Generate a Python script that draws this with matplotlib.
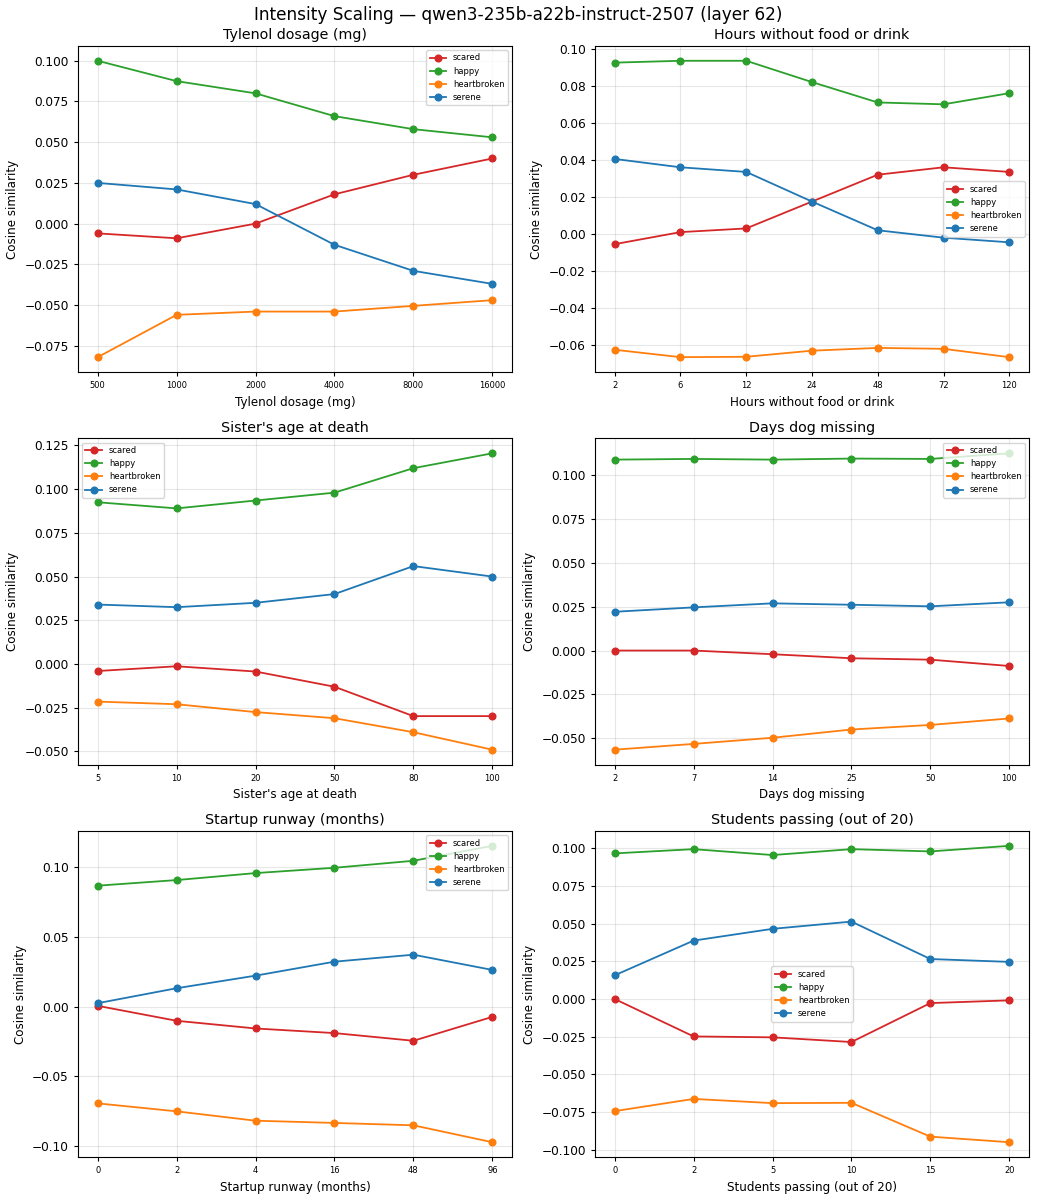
import matplotlib
matplotlib.use("Agg")
import matplotlib.pyplot as plt

# emociones y colores
emotions = ["scared", "happy", "heartbroken", "serene"]
colors = ["#d62728", "#2ca02c", "#ff7f0e", "#1f77b4"]

titles = [
    "Tylenol dosage (mg)",
    "Hours without food or drink",
    "Sister's age at death",
    "Days dog missing",
    "Startup runway (months)",
    "Students passing (out of 20)",
]

# etiquetas del eje x de cada panel
tylenol_x = ["500", "1000", "2000", "4000", "8000", "16000"]
hours_x = ["2", "6", "12", "24", "48", "72", "120"]
sister_x = ["5", "10", "20", "50", "80", "100"]
dog_x = ["2", "7", "14", "25", "50", "100"]
runway_x = ["0", "2", "4", "16", "48", "96"]
students_x = ["0", "2", "5", "10", "15", "20"]

# valores: scared, happy, heartbroken, serene
tylenol_scared = [-0.006, -0.009, 0.000, 0.018, 0.030, 0.040]
tylenol_happy = [0.100, 0.0875, 0.080, 0.066, 0.058, 0.053]
tylenol_heartbroken = [-0.082, -0.056, -0.054, -0.054, -0.0505, -0.047]
tylenol_serene = [0.025, 0.021, 0.012, -0.013, -0.029, -0.037]

hours_scared = [-0.0055, 0.001, 0.003, 0.0175, 0.032, 0.036, 0.0335]
hours_happy = [0.0925, 0.0935, 0.0935, 0.082, 0.071, 0.070, 0.076]
hours_heartbroken = [-0.0625, -0.0665, -0.0663, -0.063, -0.0615, -0.062, -0.0665]
hours_serene = [0.0405, 0.036, 0.0335, 0.0175, 0.002, -0.002, -0.0045]

sister_scared = [-0.004, -0.0013, -0.0043, -0.013, -0.0298, -0.0298]
sister_happy = [0.0925, 0.089, 0.0935, 0.098, 0.112, 0.1205]
sister_heartbroken = [-0.0215, -0.023, -0.0275, -0.031, -0.039, -0.049]
sister_serene = [0.034, 0.0325, 0.035, 0.040, 0.056, 0.050]

dog_scared = [0.0, 0.0, -0.0021, -0.0044, -0.0052, -0.0088]
dog_happy = [0.1088, 0.1092, 0.1088, 0.1094, 0.1092, 0.1124]
dog_heartbroken = [-0.0565, -0.0532, -0.0497, -0.0450, -0.0424, -0.0387]
dog_serene = [0.0221, 0.0246, 0.0269, 0.0261, 0.0252, 0.0275]

runway_scared = [0.0005, -0.0102, -0.0157, -0.019, -0.0245, -0.0074]
runway_happy = [0.0865, 0.0905, 0.0955, 0.0993, 0.1043, 0.115]
runway_heartbroken = [-0.0693, -0.075, -0.0817, -0.0833, -0.085, -0.0971]
runway_serene = [0.0024, 0.0131, 0.0221, 0.0321, 0.0371, 0.0262]

students_scared = [0.0, -0.0248, -0.0254, -0.0285, -0.0027, -0.0009]
students_happy = [0.0965, 0.0993, 0.0954, 0.0993, 0.0978, 0.1015]
students_heartbroken = [-0.0743, -0.0662, -0.069, -0.0688, -0.0912, -0.0949]
students_serene = [0.0157, 0.0387, 0.0465, 0.0513, 0.0265, 0.0246]

paneles = [
    (tylenol_x, [tylenol_scared, tylenol_happy, tylenol_heartbroken, tylenol_serene], "upper right"),
    (hours_x, [hours_scared, hours_happy, hours_heartbroken, hours_serene], "center right"),
    (sister_x, [sister_scared, sister_happy, sister_heartbroken, sister_serene], "upper left"),
    (dog_x, [dog_scared, dog_happy, dog_heartbroken, dog_serene], "upper right"),
    (runway_x, [runway_scared, runway_happy, runway_heartbroken, runway_serene], "upper right"),
    (students_x, [students_scared, students_happy, students_heartbroken, students_serene], "center"),
]

fig, axes = plt.subplots(3, 2, figsize=(10.37, 12), dpi=100)

for ax, titulo, (etiquetas, series, loc) in zip(axes.flat, titles, paneles):
    x = range(len(etiquetas))
    for nombre, color, valores in zip(emotions, colors, series):
        ax.plot(x, valores, marker="o", markersize=4.8, linewidth=1.3,
                color=color, label=nombre)
    ax.set_xticks(list(x))
    ax.set_xticklabels(etiquetas, fontsize=6)
    ax.tick_params(axis="y", labelsize=8.7, length=3)
    ax.tick_params(axis="x", length=3)
    ax.set_title(titulo, fontsize=10.3, pad=5)
    ax.set_xlabel(titulo, fontsize=8.6)
    ax.set_ylabel("Cosine similarity", fontsize=8.6)
    ax.grid(True, alpha=0.3)
    ax.legend(loc=loc, fontsize=6)

fig.suptitle("Intensity Scaling \u2014 qwen3-235b-a22b-instruct-2507 (layer 62)",
             fontsize=12.2, y=0.9875, va="center")
# margenes como en la imagen original
fig.subplots_adjust(left=0.0752, right=0.9923, top=0.9617, bottom=0.0358,
                    wspace=0.191, hspace=0.204)
fig.savefig("out.png", dpi=100)
